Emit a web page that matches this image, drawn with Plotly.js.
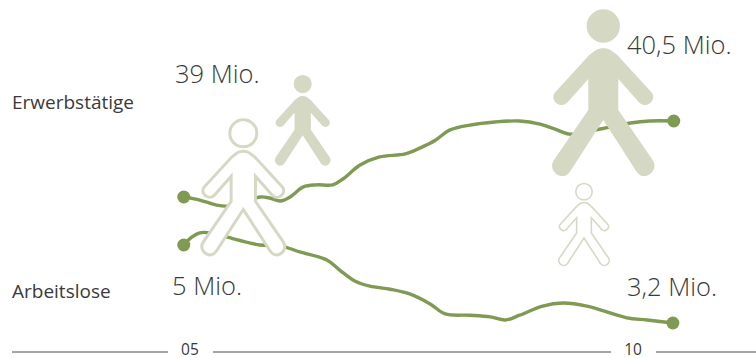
<!DOCTYPE html>
<html>
<head>
<meta charset="utf-8">
<script src="https://cdn.plot.ly/plotly-3.0.1.min.js"></script>
<style>html,body{margin:0;padding:0;background:#fff}</style>
</head>
<body>
<div id="chart" style="width:756px;height:358px"></div>
<script>
// Erwerbstätige in Mio., by decimal year
const employedYears = [2004.93,2005.11,2005.30,2005.42,2005.62,2005.79,2005.90,2006.02,2006.13,2006.28,2006.43,2006.61,2006.73,2006.92,2007.14,2007.43,2007.60,2007.77,2007.93,2008.16,2008.44,2008.72,2008.95,2009.12,2009.29,2009.51,2009.74,2009.97,2010.19,2010.46];
const employedValues = [39.00,38.94,38.84,38.82,38.90,39.00,38.98,38.92,39.00,39.20,39.24,39.24,39.36,39.63,39.79,39.85,39.97,40.12,40.32,40.42,40.48,40.50,40.44,40.34,40.24,40.30,40.38,40.46,40.50,40.50];

// Arbeitslose in Mio., by decimal year
const unemployedYears = [2004.93,2005.02,2005.11,2005.23,2005.42,2005.79,2006.02,2006.24,2006.55,2006.69,2006.86,2007.03,2007.26,2007.48,2007.71,2007.88,2008.16,2008.39,2008.56,2008.72,2008.98,2009.21,2009.48,2009.93,2010.16,2010.45];
const unemployedValues = [5.00,5.18,5.28,5.28,5.18,5.00,4.98,4.84,4.65,4.42,4.17,4.05,3.98,3.87,3.64,3.41,3.38,3.34,3.27,3.38,3.59,3.66,3.59,3.32,3.27,3.20];

const tickYears = [2005, 2010];
const tickLabels = ['05', '10'];

const GREEN = '#7f9a52', PALE = '#d5d9c3', INK = '#3a3a3a';
const W = 756, PLOT_H = 338;
const px = x => x / W;
const py = y => (PLOT_H - y) / PLOT_H;

// Right half of the walking figure, in units around the body axis with the head centre at y=78
const half = [[22,150],[42,165],[143,275],[165,298,129,330,107,307],[45,237],[45,330],[148,480],[170,513,122,548,100,515],[0,360]];
function figurePath(cx, headY, s) {
  const X = u => px(cx + u * s).toFixed(5);
  const Y = v => py(headY + (v - 78) * s).toFixed(5);
  let d = `M${X(-22)},${Y(150)} C${X(-10)},${Y(143)} ${X(10)},${Y(143)} ${X(22)},${Y(150)} `;
  half.slice(1).forEach(p => {
    d += p.length === 2 ? `L${X(p[0])},${Y(p[1])} `
      : `C${X(p[0])},${Y(p[1])} ${X(p[2])},${Y(p[3])} ${X(p[4])},${Y(p[5])} `;
  });
  // mirrored way back up the left side
  for (let i = half.length - 1; i > 0; i--) {
    const cur = half[i], prev = half[i - 1];
    const end = prev.length === 2 ? prev : prev.slice(4);
    d += cur.length === 6
      ? `C${X(-cur[2])},${Y(cur[3])} ${X(-cur[0])},${Y(cur[1])} ${X(-end[0])},${Y(end[1])} `
      : `L${X(-end[0])},${Y(end[1])} `;
  }
  return d + 'Z';
}
function figure(cx, headY, s, filled, strokeW) {
  const r = 50 * s;
  const style = filled
    ? {fillcolor: PALE, line: {width: 0}}
    : {fillcolor: '#ffffff', line: {color: PALE, width: strokeW}};
  return [
    Object.assign({type: 'path', xref: 'paper', yref: 'paper', layer: 'above', path: figurePath(cx, headY, s)}, style),
    Object.assign({type: 'circle', xref: 'paper', yref: 'paper', layer: 'above',
      x0: px(cx - r), x1: px(cx + r), y0: py(headY + r), y1: py(headY - r)}, style)
  ];
}
function rule(a, b) {
  return {type: 'line', xref: 'paper', yref: 'paper', x0: px(a), x1: px(b), y0: py(352), y1: py(352),
    line: {color: '#4a4a4a', width: 1}};
}
function label(text, x, y, size, weight) {
  return {text, xref: 'paper', yref: 'paper', x: px(x), y: py(y), xanchor: 'left', yanchor: 'middle',
    showarrow: false, align: 'left', borderpad: 0,
    font: {family: '"Open Sans", sans-serif', size, color: INK, weight}};
}

const endpoints = (a) => [a[0], a[a.length - 1]];
const lineStyle = {color: GREEN, width: 3.4, shape: 'spline', smoothing: 1};
const dotStyle = {color: GREEN, size: 13};

const traces = [
  {x: employedYears, y: employedValues, name: 'Erwerbstätige', mode: 'lines', line: lineStyle, yaxis: 'y'},
  {x: unemployedYears, y: unemployedValues, name: 'Arbeitslose', mode: 'lines', line: lineStyle, yaxis: 'y2'},
  {x: endpoints(employedYears), y: endpoints(employedValues), mode: 'markers', marker: dotStyle, yaxis: 'y'},
  {x: endpoints(unemployedYears), y: endpoints(unemployedValues), mode: 'markers', marker: dotStyle, yaxis: 'y2'}
];

const layout = {
  width: 756, height: 358,
  margin: {l: 0, r: 0, t: 0, b: 20},
  paper_bgcolor: '#fff', plot_bgcolor: '#fff',
  showlegend: false,
  font: {family: '"Open Sans", sans-serif'},
  xaxis: {range: [2002.856, 2011.388], showgrid: false, zeroline: false, showline: false, ticks: '',
    tickmode: 'array', tickvals: tickYears, ticktext: tickLabels,
    tickfont: {size: 15.5, color: INK}},
  yaxis: {range: [36.217, 42.888], visible: false},
  yaxis2: {range: [2.854, 10.654], visible: false, overlaying: 'y', side: 'right'},
  shapes: [
    rule(12, 168), rule(213, 611), rule(656, 756),
    ...figure(603.3, 26, 0.3333, true),
    ...figure(302.7, 84, 0.1813, true),
    ...figure(243.3, 133.3, 0.27, false, 3),
    ...figure(584, 191.7, 0.164, false, 1.6)
  ],
  annotations: [
    label('39 Mio.', 173.5, 73, 25.5, 300),
    label('40,5 Mio.', 625.5, 44, 25.5, 300),
    label('5 Mio.', 171, 285, 25.5, 300),
    label('3,2 Mio.', 625.5, 286, 25.5, 300),
    label('Erwerbstätige', 11, 102, 19, 400),
    label('Arbeitslose', 11, 291, 19, 400)
  ]
};

Plotly.newPlot('chart', traces, layout, {displayModeBar: false, staticPlot: true});
</script>
</body>
</html>
